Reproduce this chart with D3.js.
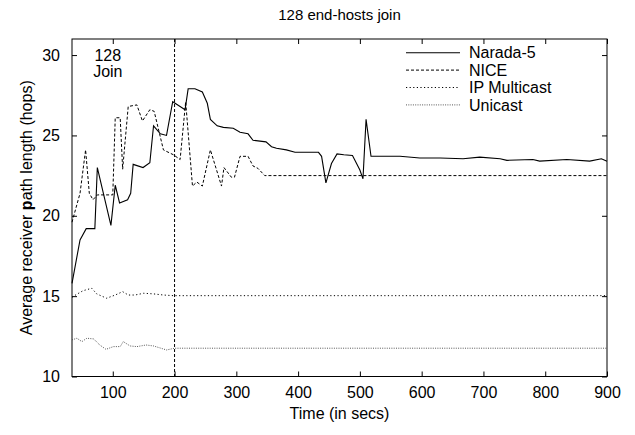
<!DOCTYPE html>
<html><head><meta charset="utf-8">
<script src="https://cdn.jsdelivr.net/npm/d3@7"></script>
<style>
body{margin:0;background:#fff;}
text{font-family:"Liberation Sans",Arial,Helvetica,sans-serif;}
</style></head>
<body><svg id="chart" width="635" height="435"></svg>
<script>
const title = "128 end-hosts join";
const xLabel = "Time (in secs)";
const yLabel = "Average receiver path length (hops)";
const xTicks = [100,200,300,400,500,600,700,800,900];
const yTicks = [10,15,20,25,30];
const seriesNames = ["Narada-5","NICE","IP Multicast","Unicast"];

const naradaT = [34,47,57,71,75,97,104,111,124,129,133,149,160,166,177,187,197,209,217,222,233,245,253,258,269,279,295,306,319,327,348,357,365,381,395,433,438,445,454,463,474,488,500,505,510,518,565,597,630,667,694,727,738,780,791,835,872,891,900];
const naradaV = [15.8,18.5,19.2,19.2,23.0,19.4,21.9,20.8,21.0,21.4,23.2,23.0,23.3,25.6,25.1,25.0,27.1,26.8,26.6,27.9,27.9,27.7,27.0,26.0,25.6,25.5,25.45,25.2,25.1,24.7,24.6,24.3,24.2,24.1,23.95,23.95,23.7,22.05,23.25,23.85,23.8,23.75,22.85,22.3,26.0,23.7,23.7,23.6,23.6,23.55,23.65,23.55,23.45,23.5,23.4,23.5,23.4,23.55,23.4];

const niceT = [34,47,56,62,68,75,100,104,112,116,125,139,148,160,167,182,198,209,218,229,236,245,258,276,280,292,297,306,319,327,335,346,900];
const niceV = [19.6,21.4,24.1,21.4,21.0,21.3,21.3,26.1,26.1,22.9,26.8,26.9,25.9,26.6,26.5,24.1,23.8,23.5,27.1,21.85,22.1,21.85,24.1,21.85,23.0,22.4,22.4,23.7,23.7,23.1,22.95,22.5,22.5];

const ipT = [34,41,52,66,74,90,104,116,125,136,150,166,182,198,900];
const ipV = [14.93,15.1,15.34,15.49,15.14,14.87,15.07,15.28,15.07,15.07,15.18,15.14,15.07,15.03,15.03];

const uniT = [34,42,50,58,69,79,89,101,112,117,128,139,154,166,178,187,200,900];
const uniV = [12.28,12.38,12.17,12.38,12.34,11.96,11.69,11.86,11.86,12.17,11.9,11.86,11.96,11.9,11.76,11.65,11.76,11.76];

const joinTime = 200;
const joinLabel = ["128","Join"];

const svg = d3.select("#chart");
const m = {l:72, r:28, t:39, b:58.5};
const W = 635, H = 435;
const x = d3.scaleLinear().domain([34,900]).range([m.l, W-m.r]);
const y = d3.scaleLinear().domain([10,31]).range([H-m.b, m.t]);
const fs = 16;

// axes
const gx = svg.append("g").attr("transform",`translate(0,${H-m.b})`)
  .call(d3.axisBottom(x).tickValues(xTicks).tickSize(-5).tickPadding(10).tickFormat(d3.format("d")));
const gxt = svg.append("g").attr("transform",`translate(0,${m.t})`)
  .call(d3.axisTop(x).tickValues(xTicks).tickSize(-5).tickFormat(""));
const gy = svg.append("g").attr("transform",`translate(${m.l},0)`)
  .call(d3.axisLeft(y).tickValues(yTicks).tickSize(-5).tickPadding(12).tickFormat(d3.format("d")));
const gyr = svg.append("g").attr("transform",`translate(${W-m.r},0)`)
  .call(d3.axisRight(y).tickValues(yTicks).tickSize(-5).tickFormat(""));
[gx,gxt,gy,gyr].forEach(g=>{
  g.select(".domain").remove();
  g.selectAll("line").attr("stroke","#000").attr("stroke-width",1);
  g.selectAll("text").attr("font-size",fs).attr("fill","#000").style("font-family","'Liberation Sans',Arial,sans-serif");
});
svg.append("rect").attr("x",m.l).attr("y",m.t).attr("width",W-m.r-m.l).attr("height",H-m.b-m.t)
  .attr("fill","none").attr("stroke","#000").attr("stroke-width",1);

// join line
svg.append("line").attr("x1",x(joinTime)).attr("x2",x(joinTime)).attr("y1",y(31)).attr("y2",y(10))
  .attr("stroke","#000").attr("stroke-width",1).attr("stroke-dasharray","3,2");
svg.append("text").attr("x",x(92)).attr("y",y(30)).attr("dy","0.35em").attr("text-anchor","middle").attr("font-size",fs).text(joinLabel[0]);
svg.append("text").attr("x",x(92)).attr("y",y(29)).attr("dy","0.35em").attr("text-anchor","middle").attr("font-size",fs).text(joinLabel[1]);

const styles = [
  {dash:null, color:"#000", w:1.1},
  {dash:"3,2", color:"#000", w:1},
  {dash:"1.2,2.4", color:"#000", w:1},
  {dash:"1,1.3", color:"#444", w:0.9}
];
const data = [[naradaT,naradaV],[niceT,niceV],[ipT,ipV],[uniT,uniV]];
const line = d3.line().x(d=>x(d[0])).y(d=>y(d[1]));
data.forEach((s,i)=>{
  const pts = s[0].map((t,j)=>[t,s[1][j]]);
  const p = svg.append("path").datum(pts).attr("d",line).attr("fill","none")
    .attr("stroke",styles[i].color).attr("stroke-width",styles[i].w);
  if(styles[i].dash) p.attr("stroke-dasharray",styles[i].dash);
});

// legend
const lg = svg.append("g");
seriesNames.forEach((n,i)=>{
  const yy = 52.7 + i*17.4;
  const l = lg.append("line").attr("x1",406).attr("x2",460).attr("y1",yy).attr("y2",yy)
    .attr("stroke",styles[i].color).attr("stroke-width",styles[i].w);
  if(styles[i].dash) l.attr("stroke-dasharray",styles[i].dash);
  lg.append("text").attr("x",469).attr("y",yy).attr("dy","0.35em").attr("font-size",fs).text(n);
});

// titles
svg.append("text").attr("x",(m.l+W-m.r)/2).attr("y",15).attr("dy","0.35em").attr("text-anchor","middle").attr("font-size",fs-1).text(title);
svg.append("text").attr("x",(m.l+W-m.r)/2).attr("y",413).attr("dy","0.35em").attr("text-anchor","middle").attr("font-size",fs).text(xLabel);
const yl = svg.append("text").attr("transform",`translate(26,${(m.t+H-m.b)/2}) rotate(-90)`).attr("dy","0.35em").attr("text-anchor","middle").attr("font-size",fs);
yl.append("tspan").text("Average receiver ");
yl.append("tspan").attr("font-weight","bold").text("p");
yl.append("tspan").text("ath length (hops)");
</script></body></html>
